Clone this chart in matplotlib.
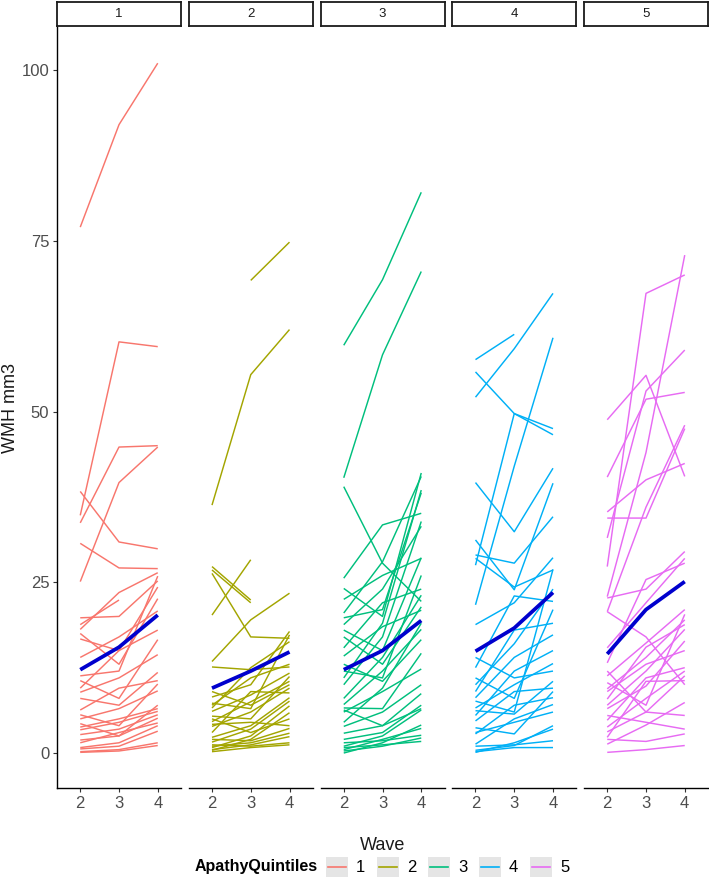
import numpy as np
import matplotlib.pyplot as plt
from matplotlib.patches import Rectangle
from matplotlib.lines import Line2D

plt.rcParams['font.family'] = ['Liberation Sans', 'DejaVu Sans']

nan = np.nan

# WMH volume per subject at waves 2, 3, 4
waves = [2, 3, 4]
quintiles = ["1", "2", "3", "4", "5"]
colors = ["#F8766D", "#A3A500", "#00BF7D", "#00B0F6", "#E76BF3"]

q1 = [(77, 92, 101), (34.8, 60.2, 59.5), (25.1, 39.6, 44.8), (33.7, 44.8, 45.0),
      (38.3, 30.9, 29.9), (30.7, 27.1, 27.0), (18.8, 22.4, nan), (19.8, 20.0, 25.2),
      (18.1, 23.5, 26.4), (16.7, 15.0, 24.3), (17.5, 13.0, 22.6), (11.3, 12.0, 25.9),
      (10.6, 8.0, 16.6), (8.9, 11.0, 14.4), (8.0, 7.0, 11.8), (6.3, 9.5, 10.6),
      (5.6, 4.0, 10.1), (5.0, 6.5, 9.1), (4.3, 2.5, 7.0), (3.8, 5.0, 6.5),
      (3.4, 4.5, 6.1), (2.7, 3.5, 5.6), (1.9, 2.5, 5.1), (1.5, 3.0, 4.4),
      (0.8, 1.5, 4.0), (0.6, 1.0, 3.2), (0.2, 0.5, 1.5), (0.1, 0.3, 1.1),
      (14.0, 17.0, 20.8), (9.5, 15.0, 18.0)]

q2 = [(36.3, 55.4, 62.0), (nan, 69.2, 74.8), (27.3, 22.4, nan), (26.8, 22.0, nan),
      (26.3, 17.0, 16.8), (20.2, 28.3, nan), (13.4, 19.5, 23.4), (12.6, 12.2, 12.6),
      (8.2, 10.0, 17.8), (7.3, 6.5, 17.3), (6.6, 12.5, 16.3), (6.1, 8.5, 11.7),
      (5.4, 5.0, 11.2), (4.6, 7.5, 10.5), (3.9, 6.0, 9.5), (3.0, 9.0, 8.8),
      (2.3, 4.0, 8.1), (1.6, 3.5, 7.6), (0.8, 2.5, 6.9), (0.4, 2.0, 5.9),
      (5.0, 3.0, 5.0), (4.2, 4.5, 4.0), (2.0, 1.8, 3.6), (1.0, 1.5, 2.9),
      (0.5, 1.2, 2.4), (1.2, 1.0, 1.5), (0.2, 0.8, 1.2), (7.0, 11.0, 13.0),
      (9.0, 7.0, 10.0)]

q3 = [(59.7, 69.3, 82.1), (40.3, 58.3, 70.5), (39.0, 27.8, 22.2), (25.6, 33.4, 35.1),
      (24.1, 20.0, 41.0), (20.5, 28.0, 40.5), (19.8, 21.0, 38.1), (18.8, 24.0, 33.2),
      (18.0, 15.0, 28.6), (15.4, 22.0, 24.0), (14.2, 18.5, 20.9), (13.0, 10.5, 16.6),
      (8.0, 14.0, 23.1), (7.1, 12.0, 18.1), (6.6, 6.5, 14.6), (6.0, 9.0, 12.3),
      (3.9, 6.0, 10.0), (2.9, 4.0, 8.7), (2.0, 3.0, 7.0), (1.0, 2.5, 6.3),
      (0.0, 1.5, 4.1), (0.5, 2.0, 3.6), (1.5, 1.8, 2.6), (0.3, 1.0, 2.2),
      (0.8, 1.2, 1.7), (22.5, 26.0, 28.5), (17.0, 13.0, 21.4), (10.0, 17.0, 33.9),
      (12.0, 11.0, 26.0), (4.5, 9.5, 19.0), (6.3, 4.0, 6.5), (11.0, 19.0, 38.5)]

q4 = [(57.6, 61.3, nan), (52.1, 59.2, 67.3), (55.8, 49.7, 46.6), (27.5, 49.7, 47.5),
      (21.7, 42.0, 60.8), (39.6, 32.4, 41.7), (31.2, 23.9, 39.5), (29.0, 27.8, 34.6),
      (28.5, 24.3, 26.8), (18.8, 22.0, 28.6), (12.5, 23.0, 22.2), (11.0, 8.0, 21.0),
      (8.1, 14.0, 17.3), (7.6, 6.0, 26.9), (6.6, 10.0, 13.1), (6.2, 5.7, 10.5),
      (4.7, 9.0, 9.5), (3.7, 2.8, 9.0), (2.8, 7.0, 8.1), (1.3, 5.0, 7.1),
      (0.4, 1.1, 4.0), (0.1, 1.5, 3.5), (1.0, 1.2, 1.8), (0.2, 0.8, 0.8),
      (10.0, 16.0, 24.0), (5.5, 12.0, 15.0), (3.0, 4.5, 6.0), (9.0, 18.0, 19.0),
      (14.0, 11.0, 12.0)]

q5 = [(27.3, 67.3, 70.0), (22.9, 44.0, 72.9), (48.8, 55.3, 40.5), (40.4, 51.8, 52.8),
      (34.4, 34.4, 47.5), (35.3, 40.0, 42.4), (31.5, 53.0, 59.0), (20.7, 36.0, 48.0),
      (22.7, 24.0, 29.5), (15.4, 22.0, 28.5), (13.2, 25.4, 27.8), (11.3, 16.1, 21.0),
      (10.3, 7.0, 20.3), (9.4, 14.0, 19.5), (7.9, 15.5, 18.8), (7.0, 12.0, 18.1),
      (6.5, 9.8, 16.4), (4.8, 11.0, 12.5), (3.8, 8.0, 12.0), (3.1, 6.0, 11.3),
      (2.3, 10.5, 10.6), (1.3, 4.1, 7.4), (0.1, 0.5, 1.1), (12.0, 6.0, 5.5),
      (5.5, 4.5, 3.5), (2.0, 1.7, 2.8), (20.7, 17.0, 10.0), (9.0, 13.0, 15.0)]

# group means drawn in blue
means = [(12.2, 15.5, 20.2), (9.5, 12.0, 14.8), (12.2, 15.0, 19.4),
         (14.9, 18.3, 23.5), (14.5, 21.0, 25.1)]

groups = [q1, q2, q3, q4, q5]

W, H = 709, 882
fig = plt.figure(figsize=(W / 100, H / 100), dpi=100)

def fx(px):
    return px / W

def fy(py):
    return 1 - py / H

panel_w = 124
top, bottom = 27, 788
for i, (subjects, col) in enumerate(zip(groups, colors)):
    left = 57 + i * 131.75
    ax = fig.add_axes([fx(left), fy(bottom), fx(panel_w), (bottom - top) / H])
    for s in subjects:
        ax.plot(waves, s, color=col, lw=1.05, solid_capstyle='butt')
    ax.plot(waves, means[i], color="#0000CD", lw=2.7, solid_capstyle='butt')
    ax.set_xlim(1.4, 4.6)
    ax.set_ylim(-5.12, 106.3)
    ax.set_xticks(waves)
    ax.set_xticklabels([str(w) for w in waves])
    for sp in ["top", "right"]:
        ax.spines[sp].set_visible(False)
    ax.spines["bottom"].set_linewidth(1.0)
    ax.tick_params(axis='x', length=3, width=0.8, color="#333333",
                   labelsize=12, labelcolor="#4D4D4D", pad=3)
    if i == 0:
        ax.spines["left"].set_linewidth(1.0)
        ax.set_yticks([0, 25, 50, 75, 100])
        ax.tick_params(axis='y', length=3, width=0.8, color="#333333",
                       labelsize=12, labelcolor="#4D4D4D", pad=2.5)
    else:
        ax.spines["left"].set_visible(False)
        ax.set_yticks([])

    # facet strip
    sax = fig.add_axes([fx(left), fy(26), fx(panel_w), 23.5 / H])
    sax.set_xticks([])
    sax.set_yticks([])
    for sp in sax.spines.values():
        sp.set_linewidth(1.3)
        sp.set_color("#1A1A1A")
    sax.text(0.5, 0.5, quintiles[i], ha='center', va='center',
             fontsize=9.5, color="#1A1A1A", transform=sax.transAxes)

fig.text(fx(383), fy(846), "Wave", ha='center', va='center', fontsize=13,
         color="#1A1A1A")
fig.text(fx(11), fy(408), "WMH mm3", ha='center', va='center', fontsize=13,
         rotation=90, color="#1A1A1A")

# legend
fig.text(fx(195), fy(867), "ApathyQuintiles", ha='left', va='center',
         fontsize=11.5, fontweight='bold', color="#000000")
key_lefts = [326, 377, 428, 479, 530]
for kl, q, col in zip(key_lefts, quintiles, colors):
    fig.patches.append(Rectangle((fx(kl), fy(877)), fx(22), 20 / H,
                                 transform=fig.transFigure, facecolor="#E5E5E5",
                                 edgecolor='none'))
    fig.lines.append(Line2D([fx(kl + 2), fx(kl + 20)], [fy(867), fy(867)],
                            transform=fig.transFigure, color=col, lw=1.2))
    fig.text(fx(kl + 30), fy(867), q, ha='left', va='center', fontsize=12,
             color="#000000")

fig.savefig("out.png", dpi=100)
